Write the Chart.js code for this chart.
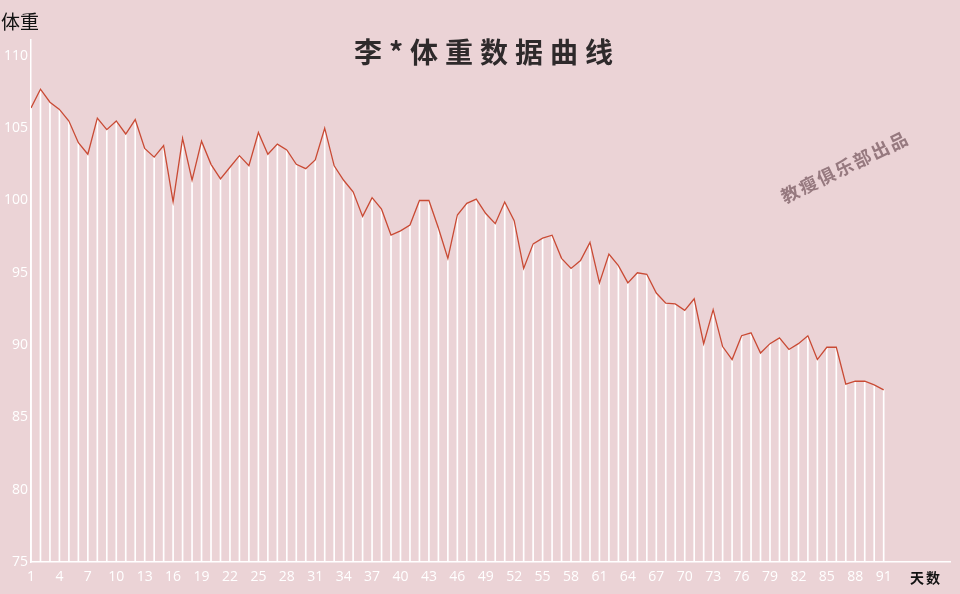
<!DOCTYPE html>
<html>
<head>
<meta charset="UTF-8">
<title>李*体重数据曲线</title>
<style>
  body { margin: 0; background: #ebd3d6; }
  #wrap { position: relative; width: 960px; height: 594px; }
</style>
</head>
<body>
<div id="wrap">
  <canvas id="weight"></canvas>
</div>

<script src="https://cdn.jsdelivr.net/npm/chart.js@4/dist/chart.umd.min.js"></script>

<script>
  // day numbers and weights
  var days = [];
  for (var d = 1; d <= 91; d++) { days.push(d); }

  var weights = [
    106.4, 107.7, 106.8, 106.3, 105.5, 104.0, 103.2, 105.7, 104.9, 105.5,
    104.6, 105.6, 103.6, 103.0, 103.8, 99.9, 104.3, 101.4, 104.1, 102.5,
    101.5, 102.3, 103.1, 102.4, 104.7, 103.2, 103.9, 103.5, 102.5, 102.2,
    102.8, 105.0, 102.4, 101.4, 100.6, 98.9, 100.2, 99.4, 97.6, 97.9,
    98.3, 100.0, 100.0, 98.1, 96.0, 99.0, 99.8, 100.1, 99.1, 98.4,
    99.9, 98.6, 95.3, 97.0, 97.4, 97.6, 96.0, 95.3, 95.85, 97.1,
    94.3, 96.3, 95.5, 94.3, 95.0, 94.9, 93.6, 92.9, 92.85, 92.4,
    93.2, 90.1, 92.45, 89.9, 89.0, 90.65, 90.85, 89.45, 90.1, 90.5,
    89.7, 90.1, 90.65, 89.0, 89.85, 89.85, 87.3, 87.5, 87.5, 87.25,
    86.9
  ];

  var xTickDays = [1, 4, 7, 10, 13, 16, 19, 22, 25, 28, 31, 34, 37, 40, 43, 46,
                   49, 52, 55, 58, 61, 64, 67, 70, 73, 76, 79, 82, 85, 88, 91];
  var yTickValues = [75, 80, 85, 90, 95, 100, 105, 110];

  var title = '李*体重数据曲线';
  var yTitle = '体重';
  var xTitle = '天数';
  var stamp = '教瘦俱乐部出品';

  var points = days.map(function(d, i) { return { x: d, y: weights[i] }; });

  var decor = {
    id: 'decor',
    beforeDraw: function(chart) {
      var c = chart.ctx;
      c.save();
      c.fillStyle = '#ebd3d6';
      c.fillRect(0, 0, chart.width, chart.height);
      c.restore();
    },
    afterDraw: function(chart) {
      var c = chart.ctx;
      c.save();
      // title
      c.fillStyle = '#2e2a2b';
      c.font = 'bold 28px "Noto Sans CJK SC"';
      c.textAlign = 'center';
      c.textBaseline = 'middle';
      c.letterSpacing = '7px';
      c.fillText(title, 487, 52);
      c.letterSpacing = '0px';
      // axis names
      c.font = '19px "Noto Sans CJK SC"';
      c.textAlign = 'left';
      c.fillStyle = '#111';
      c.fillText(yTitle, 1, 22);
      c.font = 'bold 14px "Noto Sans CJK SC"';
      c.letterSpacing = '2px';
      c.fillText(xTitle, 910, 578);
      // watermark
      c.translate(845, 167);
      c.rotate(-26 * Math.PI / 180);
      c.font = 'bold 18px "Noto Sans CJK SC"';
      c.textAlign = 'center';
      c.fillStyle = '#96797f';
      c.letterSpacing = '2px';
      c.fillText(stamp, 0, 0);
      c.restore();
    }
  };

  var ctx = document.getElementById('weight');

  var chart = new Chart(ctx, {
    type: 'line',
    data: {
      datasets: [
        {
          type: 'line',
          data: points,
          borderColor: '#c94a34',
          borderWidth: 1.3,
          pointRadius: 0,
          tension: 0,
          fill: false,
          order: 1
        },
        {
          type: 'bar',
          data: points,
          backgroundColor: '#ffffff',
          barThickness: 1,
          grouped: false,
          order: 2
        }
      ]
    },
    options: {
      responsive: true,
      maintainAspectRatio: false,
      animation: false,
      layout: { padding: { left: 0, right: 10, top: 40, bottom: 0 } },
      plugins: {
        legend: { display: false },
        tooltip: { enabled: false }
      },
      scales: {
        x: {
          type: 'linear',
          offset: false,
          min: 1,
          max: 98,
          grid: { display: false, drawTicks: false, offset: false },
          border: { color: '#ffffff', width: 1.5 },
          afterBuildTicks: function(s) {
            s.ticks = xTickDays.map(function(v) { return { value: v }; });
          },
          afterFit: function(s) { s.height = 32; },
          ticks: {
            color: '#ffffff',
            padding: 7,
            maxRotation: 0,
            autoSkip: false,
            font: { family: '"Open Sans"', size: 14 }
          }
        },
        y: {
          min: 75,
          max: 111.1,
          grid: { display: false, drawTicks: false },
          border: { color: '#ffffff', width: 1.5 },
          afterBuildTicks: function(s) {
            s.ticks = yTickValues.map(function(v) { return { value: v }; });
          },
          afterFit: function(s) { s.width = 31; },
          ticks: {
            color: '#ffffff',
            padding: 3,
            font: { family: '"Open Sans"', size: 14 }
          }
        }
      }
    },
    plugins: [decor]
  });
</script>
</body>
</html>
